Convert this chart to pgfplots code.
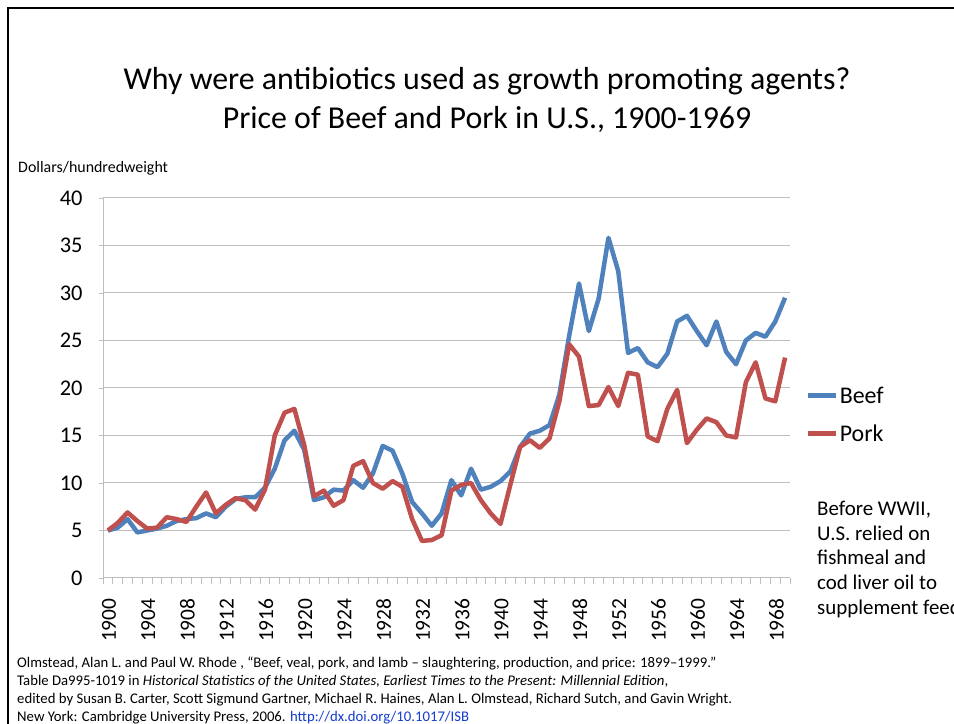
\documentclass[border=0pt]{standalone}
\usepackage{pgfplots}
\pgfplotsset{compat=1.18}
\usepackage{pgfplotstable}
\usepackage{fontspec}
\setmainfont{Carlito}
\definecolor{beef}{RGB}{79,129,189}
\definecolor{pork}{RGB}{192,80,77}
\definecolor{gridc}{RGB}{190,190,190}
\definecolor{linkc}{RGB}{20,60,210}
\pgfplotstableread{
year beef pork
1900 5.0 5.0
1901 5.3 5.8
1902 6.2 6.9
1903 4.8 6.0
1904 5.0 5.2
1905 5.2 5.3
1906 5.5 6.4
1907 6.0 6.2
1908 6.2 5.9
1909 6.3 7.5
1910 6.8 9.0
1911 6.4 6.8
1912 7.5 7.7
1913 8.3 8.4
1914 8.5 8.2
1915 8.5 7.2
1916 9.5 9.3
1917 11.5 15.0
1918 14.5 17.4
1919 15.5 17.8
1920 13.5 14.0
1921 8.2 8.6
1922 8.5 9.2
1923 9.3 7.6
1924 9.2 8.2
1925 10.3 11.8
1926 9.5 12.3
1927 11.0 10.0
1928 13.9 9.4
1929 13.4 10.2
1930 11.0 9.6
1931 8.0 6.2
1932 6.8 3.9
1933 5.5 4.0
1934 6.8 4.5
1935 10.3 9.2
1936 8.7 9.8
1937 11.5 10.0
1938 9.3 8.2
1939 9.6 6.8
1940 10.2 5.7
1941 11.2 9.8
1942 13.8 13.8
1943 15.2 14.5
1944 15.5 13.7
1945 16.1 14.7
1946 19.3 18.6
1947 25.5 24.6
1948 31.0 23.3
1949 26.0 18.1
1950 29.4 18.2
1951 35.8 20.1
1952 32.3 18.1
1953 23.7 21.6
1954 24.2 21.4
1955 22.7 14.9
1956 22.2 14.4
1957 23.6 17.8
1958 27.0 19.8
1959 27.6 14.2
1960 26.0 15.6
1961 24.5 16.8
1962 27.0 16.4
1963 23.8 15.0
1964 22.5 14.8
1965 25.0 20.6
1966 25.8 22.7
1967 25.4 18.9
1968 27.0 18.6
1969 29.5 23.2
}\prices
\begin{document}
\begin{tikzpicture}
\useasboundingbox (0bp,0bp) rectangle (954bp,724bp);
\clip (0bp,0bp) rectangle (954bp,724bp);
\fill[white] (0bp,0bp) rectangle (954bp,724bp);
\draw[black, line width=1.5bp] (8bp,0bp) -- (8bp,716bp) -- (954bp,716bp);
\node[font=\fontsize{32}{38.5}\selectfont, align=center] at (487bp,624bp) {Why were antibiotics used as growth promoting agents?\\Price of Beef and Pork in U.S., 1900-1969};
\node[font=\fontsize{16}{18}\selectfont, anchor=west, inner sep=0] at (18bp,556bp) {Dollars/hundredweight};
\begin{axis}[
  at={(103bp,146bp)}, anchor=south west,
  width=687bp, height=380bp, scale only axis,
  xmin=1899.5, xmax=1969.5, ymin=0, ymax=40,
  axis x line=bottom, axis y line=left,
  axis line style={-, draw=gridc, line width=1bp},
  xtick={1900,1904,...,1968},
  major x tick style={draw=none},
  minor xtick={1899.5,1900.5,...,1969.5},
  minor tick length=6bp,
  minor x tick style={gridc, line width=0.8bp},
  tick align=outside,
  ytick={0,5,...,40},
  major tick length=4bp,
  y tick style={gridc, line width=0.8bp},
  ymajorgrids, grid style={gridc, line width=1bp},
  /pgf/number format/assume math mode=true,
  /pgf/number format/1000 sep={},
  xticklabel style={rotate=90, anchor=east, font=\fontsize{21.5}{23}\selectfont, xshift=-13bp, yshift=-1bp},
  yticklabel style={font=\fontsize{22.5}{24}\selectfont, xshift=-13bp},
  legend style={draw=none, fill=none, at={(1.022,0.43)}, anchor=west, font=\fontsize{24}{26}\selectfont, row sep=16bp, inner sep=0pt},
  legend cell align=left,
  legend image code/.code={\draw[#1] (0bp,0bp) -- (28bp,0bp);},
  clip=false,
]
\addplot[beef, line width=4.5bp, line join=round] table[x=year, y=beef] {\prices};
\addlegendentry{Beef}
\addplot[pork, line width=4.5bp, line join=round] table[x=year, y=pork] {\prices};
\addlegendentry{Pork}
\end{axis}
\node[font=\fontsize{21}{24.8}\selectfont, anchor=north west, align=left, inner sep=0] at (817bp,223bp) {Before WWII,\\U.S. relied on\\fishmeal and\\cod liver oil to\\supplement feed};
\node[font=\fontsize{14.8}{18}\selectfont, anchor=north west, align=left, inner sep=0] at (17bp,67bp) {Olmstead, Alan L. and Paul W. Rhode , “Beef, veal, pork, and lamb – slaughtering, production, and price: 1899–1999.”\\
Table Da995-1019 in \textit{Historical Statistics of the United States, Earliest Times to the Present: Millennial Edition},\\
edited by Susan B. Carter, Scott Sigmund Gartner, Michael R. Haines, Alan L. Olmstead, Richard Sutch, and Gavin Wright.\\
New York: Cambridge University Press, 2006. \textcolor{linkc}{\underline{http://dx.doi.org/10.1017/ISB}}};
\end{tikzpicture}
\end{document}
